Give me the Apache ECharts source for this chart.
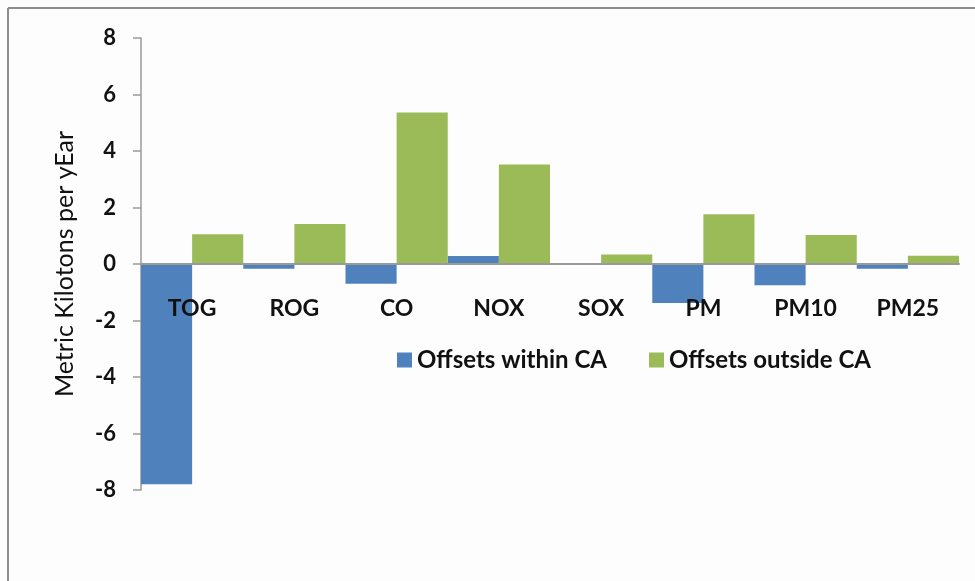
<!DOCTYPE html>
<html>
<head>
<meta charset="utf-8">
<script src="https://cdn.jsdelivr.net/npm/echarts@6/dist/echarts.min.js"></script>
<style>
  html, body { margin: 0; padding: 0; background: #ffffff; }
  #chart { width: 975px; height: 581px; }
</style>
</head>
<body>
<div id="chart"></div>
<script>
// Emission categories along the x axis
const categories = ['TOG', 'ROG', 'CO', 'NOX', 'SOX', 'PM', 'PM10', 'PM25'];

// Metric kilotons per year for each offset location
const offsetsWithinCA  = [-7.8, -0.17, -0.7, 0.28, 0.01, -1.38, -0.75, -0.17];
const offsetsOutsideCA = [1.05, 1.42, 5.36, 3.52, 0.34, 1.76, 1.03, 0.29];

const seriesNames = ['Offsets within CA', 'Offsets outside CA'];
const yTicks = { min: -8, max: 8, interval: 2 };

const FONT = 'Lato, "Open Sans", sans-serif';

const chart = echarts.init(document.getElementById('chart'), null, { renderer: 'canvas' });

chart.setOption({
  backgroundColor: '#fdfdfd',
  animation: false,
  color: ['#4F81BD', '#9BBB59'],
  graphic: [
    // frame around the chart area (left and top edges)
    { type: 'line', shape: { x1: 8, y1: 8, x2: 8, y2: 581 }, style: { stroke: '#8c8c8c', lineWidth: 2 } },
    { type: 'line', shape: { x1: 8, y1: 8, x2: 975, y2: 8 }, style: { stroke: '#8c8c8c', lineWidth: 2 } }
  ],
  grid: { left: 141, right: 16, top: 38, bottom: 91, containLabel: false },
  legend: {
    data: seriesNames,
    left: 392,
    top: 343,
    itemWidth: 15,
    itemHeight: 15,
    itemGap: 42,
    icon: 'rect',
    textStyle: { fontFamily: FONT, fontSize: 24, fontWeight: 'bold', color: '#111' }
  },
  xAxis: {
    type: 'category',
    data: categories,
    z: 3,
    axisLine: { onZero: true, lineStyle: { color: '#9a9a9a', width: 2 } },
    axisTick: { show: false },
    // labels sit just under the zero line, inside the plot, drawn over the bars
    axisLabel: { margin: -193, fontFamily: FONT, fontSize: 23, fontWeight: 'bold', color: '#111' }
  },
  yAxis: {
    type: 'value',
    min: yTicks.min,
    max: yTicks.max,
    interval: yTicks.interval,
    name: 'Metric Kilotons per yEar',
    nameLocation: 'middle',
    nameGap: 64,
    nameTextStyle: { fontFamily: FONT, fontSize: 25, color: '#111' },
    splitLine: { show: false },
    axisLine: { show: true, lineStyle: { color: '#9a9a9a', width: 1.5 } },
    axisTick: { show: true, length: 8, lineStyle: { color: '#9a9a9a', width: 1.5 } },
    axisLabel: { margin: 25, fontFamily: FONT, fontSize: 22, fontWeight: 'bold', color: '#111' }
  },
  series: [
    {
      name: seriesNames[0],
      type: 'bar',
      data: offsetsWithinCA,
      barGap: '0%',
      barCategoryGap: '0%'
    },
    {
      name: seriesNames[1],
      type: 'bar',
      data: offsetsOutsideCA,
      barGap: '0%',
      barCategoryGap: '0%'
    }
  ]
});
</script>
</body>
</html>
